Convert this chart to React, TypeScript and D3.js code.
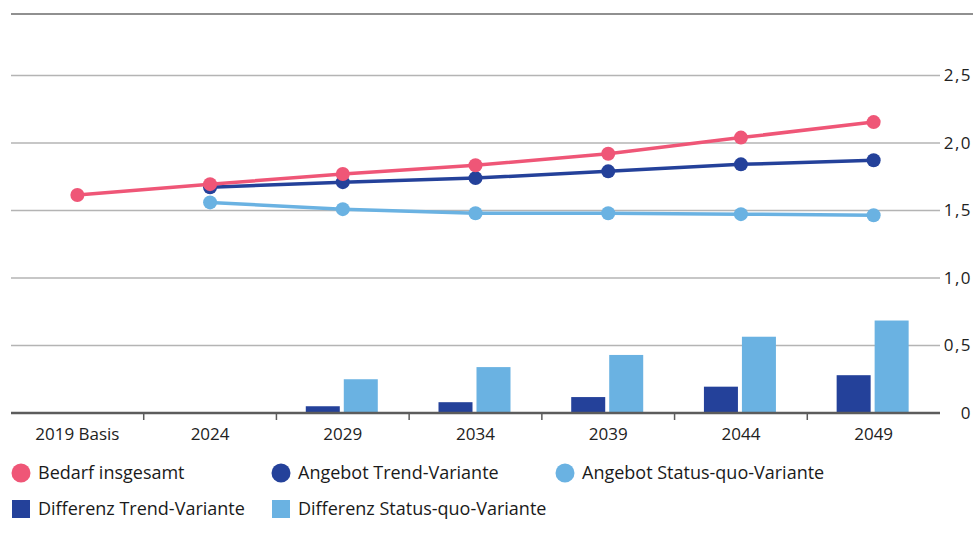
import * as d3 from "d3";

const categories = ["2019 Basis", "2024", "2029", "2034", "2039", "2044", "2049"];
const bedarf = [1.615, 1.695, 1.77, 1.835, 1.92, 2.04, 2.155];
const trend = [null, 1.672, 1.71, 1.74, 1.79, 1.842, 1.872];
const statusQuo = [null, 1.56, 1.51, 1.48, 1.48, 1.473, 1.465];
const diffTrend = [null, null, 0.05, 0.08, 0.118, 0.195, 0.28];
const diffStatusQuo = [null, null, 0.25, 0.34, 0.43, 0.565, 0.685];
const yTicks = [0, 0.5, 1, 1.5, 2, 2.5];

const PINK = "#ef5677";
const DARK = "#24419a";
const LIGHT = "#6ab2e2";
const FONT = "'Open Sans', sans-serif";

export default function App() {
  const width = 973;
  const height = 537;

  const x = d3.scaleBand().domain(categories).range([11, 940]).padding(0);
  const y = d3.scaleLinear().domain([0, 2.5]).range([413, 75.5]);
  // the two bars sit side by side around the middle of each year
  const xInner = d3.scaleBand().domain(["trend", "sq"]).range([-37, 35]).paddingInner(0.105);

  const cx = (c: string) => (x(c) ?? 0) + x.bandwidth() / 2;

  const lineGen = d3
    .line<[string, number | null]>()
    .defined((d) => d[1] != null)
    .x((d) => cx(d[0]))
    .y((d) => y(d[1] as number));

  const series = [
    { name: "sq", values: statusQuo, color: LIGHT },
    { name: "trend", values: trend, color: DARK },
    { name: "bedarf", values: bedarf, color: PINK },
  ];

  const fmt = (v: number) => (v === 0 ? "0" : d3.format(".1f")(v).replace(".", ","));

  const legend = [
    { label: "Bedarf insgesamt", color: PINK, shape: "circle", lx: 21, ly: 473 },
    { label: "Angebot Trend-Variante", color: DARK, shape: "circle", lx: 281, ly: 473 },
    { label: "Angebot Status-quo-Variante", color: LIGHT, shape: "circle", lx: 565, ly: 473 },
    { label: "Differenz Trend-Variante", color: DARK, shape: "rect", lx: 21, ly: 509 },
    { label: "Differenz Status-quo-Variante", color: LIGHT, shape: "rect", lx: 281, ly: 509 },
  ];

  return (
    <svg
      width={width}
      height={height}
      style={{ position: "absolute", left: 0, top: 0, background: "#fff" }}
      fontFamily={FONT}
    >
      <line x1={11} x2={973} y1={14} y2={14} stroke="#6b6b6b" strokeWidth={1.5} />
      {yTicks.filter((t) => t > 0).map((t) => (
        <line key={t} x1={11} x2={940} y1={y(t)} y2={y(t)} stroke="#b4b4b4" strokeWidth={1.5} />
      ))}
      {yTicks.map((t) => (
        <text key={t} x={972} y={y(t)} dy="0.35em" textAnchor="end" fontSize={17} letterSpacing={1.5} fill="#222">
          {fmt(t)}
        </text>
      ))}

      {/* bars */}
      {categories.map((c, i) => (
        <g key={c} transform={`translate(${cx(c)},0)`}>
          {diffTrend[i] != null && (
            <rect
              x={xInner("trend")}
              width={xInner.bandwidth()}
              y={y(diffTrend[i] as number)}
              height={y(0) - y(diffTrend[i] as number)}
              fill={DARK}
            />
          )}
          {diffStatusQuo[i] != null && (
            <rect
              x={xInner("sq")}
              width={xInner.bandwidth()}
              y={y(diffStatusQuo[i] as number)}
              height={y(0) - y(diffStatusQuo[i] as number)}
              fill={LIGHT}
            />
          )}
        </g>
      ))}

      <line x1={11} x2={940} y1={y(0)} y2={y(0)} stroke="#5c5c5c" strokeWidth={2.5} />
      {categories.slice(1).map((c) => (
        <line key={c} x1={x(c)} x2={x(c)} y1={y(0)} y2={y(0) + 7} stroke="#5c5c5c" strokeWidth={1.5} />
      ))}
      {categories.map((c) => (
        <text key={c} x={cx(c)} y={434} textAnchor="middle" dy="0.35em" fontSize={17} fill="#222">
          {c}
        </text>
      ))}

      {/* lines */}
      {series.map((s) => (
        <g key={s.name}>
          <path
            d={lineGen(categories.map((c, i) => [c, s.values[i]]) as [string, number | null][]) ?? ""}
            fill="none"
            stroke={s.color}
            strokeWidth={3.5}
          />
          {s.values.map((v, i) =>
            v == null ? null : <circle key={i} cx={cx(categories[i])} cy={y(v)} r={7} fill={s.color} />
          )}
        </g>
      ))}

      {/* legend */}
      {legend.map((l) => (
        <g key={l.label}>
          {l.shape === "circle" ? (
            <circle cx={l.lx} cy={l.ly} r={9.5} fill={l.color} />
          ) : (
            <rect x={l.lx - 9} y={l.ly - 9} width={18} height={18} fill={l.color} />
          )}
          <text x={l.lx + 17} y={l.ly} dy="0.35em" fontSize={18} fill="#1a1a1a">
            {l.label}
          </text>
        </g>
      ))}
    </svg>
  );
}
